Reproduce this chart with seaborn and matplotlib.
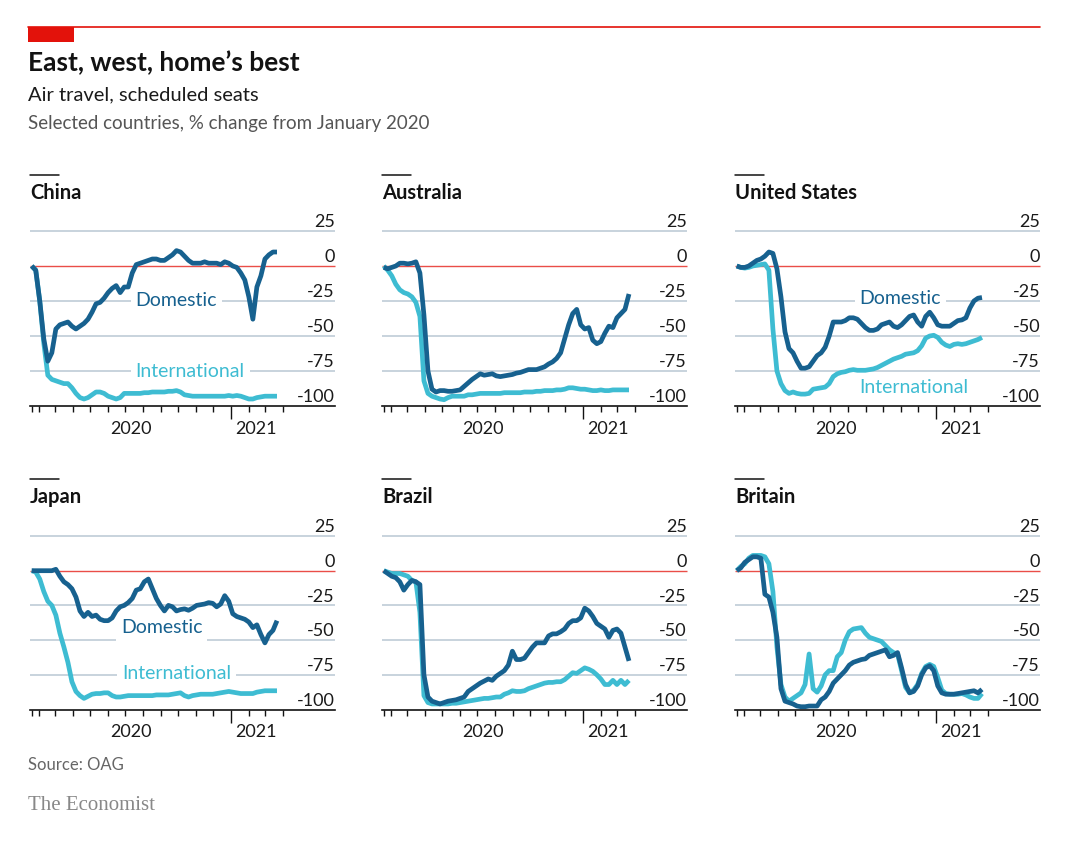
import numpy as np
import pandas as pd
import matplotlib
matplotlib.use("Agg")
import matplotlib.pyplot as plt
import matplotlib.patches as mpatches
import matplotlib.transforms as mtrans
from matplotlib.lines import Line2D
import seaborn as sns

sns.set_theme(style="white")
plt.rcParams["font.family"] = ["Lato", "DejaVu Sans"]

# ---------------- data (weekly, % change from January 2020) ----------------
dates = pd.date_range("2020-01-20", periods=62, freq="7D")

countries = ["China", "Australia", "United States", "Japan", "Brazil", "Britain"]

china_dom = [0, -3, -25, -52, -68, -62, -45, -42, -41, -40, -43, -45, -43, -41, -38, -33,
             -27, -26, -23, -19, -16, -14, -19, -15, -15, -5, 1, 2, 3, 4, 5, 5,
             4, 4, 6, 8, 11, 10, 7, 4, 2, 2, 2, 3, 2, 2, 2, 1,
             3, 2, 0, -1, -5, -10, -22, -38, -15, -7, 5, 8, 10, 10]
china_int = [0, -3, -25, -55, -78, -81, -82, -83, -84, -84, -87, -91, -94, -95, -94, -92,
             -90, -90, -91, -93, -94, -95, -94, -91, -91, -91, -91, -91, -90.5, -90.5, -90, -90,
             -90, -90, -89.5, -89.5, -89, -90, -92, -92.5, -93, -93, -93, -93, -93, -93,
             -93, -93, -93, -92.5, -93, -92.5, -93, -94, -95, -95, -94, -93.5, -93, -93, -93, -93]

aus_dom = [-1, -2, -1, 0, 2, 2, 1.5, 2, 3, -5, -35, -75, -88, -90, -89, -89,
           -89.5, -89.5, -89, -88.5, -86, -83.5, -81, -79, -77, -78, -77.5, -77, -78.5, -79, -78.5, -78,
           -77.5, -76.5, -76, -75, -74, -74, -74, -73, -72, -70, -68.5, -66, -62, -52,
           -42, -34, -31, -42, -45, -44, -53, -55.5, -54, -48, -43, -44, -37, -34, -31, -20]
aus_int = [0, -3, -7, -13, -17, -19, -20, -22, -26, -36, -82, -91, -93, -94, -95, -95.5,
           -94, -93, -93, -93, -93, -92, -92, -91.5, -91, -91, -91, -91, -91, -91, -90.5, -90.5,
           -90.5, -90.5, -90.5, -90, -90, -90, -89.5, -89.5, -89, -89, -89, -88.5, -88.5, -88,
           -87, -87, -87.5, -88, -88, -88.5, -89, -89, -88.5, -89, -89, -88.5, -88.5, -88.5, -88.5, -88.5]

us_dom = [0, -1, -1, 0, 2, 4, 5, 7, 10, 9, -2, -22, -47, -59, -62, -68,
          -73, -73, -72, -68, -64, -62, -58, -50, -40, -40, -40, -39, -37, -37, -38, -41,
          -44, -46, -46, -45, -42, -41, -40, -43, -44, -42, -39, -36, -35, -40,
          -43, -36, -33, -37, -42, -43, -43, -43, -41, -39, -38.5, -37, -30, -25, -23, -22.5]
us_int = [0, -1, -1.5, -1, 0, 0.5, 1, 1.5, -3, -45, -75, -84, -89, -91, -90, -91,
          -91.5, -91.5, -91, -88, -87.5, -87, -86.5, -84, -79, -77, -76, -75.5, -74.5, -74, -74.5, -74.5,
          -74.5, -74, -73.5, -72.5, -71, -69.5, -68, -66.5, -65.5, -64.5, -63, -62.5, -62, -60.5,
          -57, -51.5, -50, -49.5, -51, -54.5, -56.5, -57.5, -56, -55.5, -56, -55.5, -54.5, -53.5, -52.5, -51]

jap_dom = [0, 0, 0, 0, 0, 0, 1, -4, -8, -10, -13, -19, -29, -33, -30, -33,
           -32, -35, -36, -36, -34, -29, -26, -25, -23, -20, -14, -13, -8, -6, -13, -20,
           -25, -29, -25, -26, -29, -28, -27.5, -28.5, -27, -25, -24.5, -24, -23, -23.5,
           -26, -24, -18, -22, -31, -33, -34, -35, -37, -41, -39, -46, -52, -46, -43, -36]
jap_int = [0, -1, -6, -15, -22, -25, -32, -45, -55, -66, -80, -87, -90, -92, -90.5, -89,
           -88.5, -88.5, -88, -88, -90, -91, -91, -90.5, -90, -90, -90, -90, -90, -90, -90, -89.5,
           -89.5, -89.5, -89.5, -89, -88.5, -88, -90, -91, -90, -89.5, -89, -89, -89, -89,
           -88.5, -88, -87.5, -87, -87.5, -88, -88.5, -88.5, -88.5, -88.5, -87.5, -87, -86.5, -86.5, -86.5, -86.5]

bra_dom = [0, -2, -4, -5, -8, -14, -10, -7, -8, -10, -75, -91, -94, -95, -96, -95,
           -94, -93.5, -93, -92, -91, -87, -85, -83, -81, -79.5, -78, -79, -76, -74, -72, -68,
           -58, -64, -64, -63, -59, -55, -52, -52, -52, -47, -45.5, -45.5, -44, -42,
           -38, -36, -36, -34, -27, -29, -33, -38, -40, -42, -48, -43, -42, -45, -55, -65]
bra_int = [0, -1, -2, -2, -2, -3, -4, -7, -8, -30, -90, -95, -96, -96, -96, -96,
           -96, -95.5, -95.5, -95, -94.5, -94, -93.5, -93, -92.5, -92, -92, -91.5, -91, -91, -89, -88,
           -86.5, -87, -87, -86.5, -85, -84, -83, -82, -81, -80.5, -80.5, -80, -80, -78.5,
           -76, -73.5, -74, -72, -70, -71, -72.5, -75, -78, -82, -82, -79, -82, -79, -82, -79]

gb_dom = [0, 2, 6, 8, 10, 10, 9, -17, -19, -30, -48, -85, -94, -95, -96, -97.5,
          -98, -98, -97.5, -97.5, -97.5, -93, -91, -87, -81, -78, -75, -72, -68, -66, -65, -64,
          -63.5, -61, -60, -59, -58, -57, -62, -61, -59, -70, -82, -88, -87, -83,
          -75, -70, -68.5, -72, -83, -88, -89, -89, -89, -88.5, -88, -87.5, -87, -86.5, -88, -85.5]
gb_int = [0, 3, 5, 9, 11, 11, 11, 10, 5, -15, -55, -82, -91, -94, -92, -90,
          -88, -82, -60, -85, -87.5, -83, -75, -72, -72, -62, -59, -50, -44, -42, -41.5, -41,
          -45, -48, -49, -50, -51, -54, -57, -59, -60, -72, -84, -88, -86, -82,
          -74, -69, -67.5, -69, -77, -86, -88.5, -89, -89, -89, -88.5, -89.5, -91, -92, -92, -88.5]

domestic = [china_dom, aus_dom, us_dom, jap_dom, bra_dom, gb_dom]
international = [china_int, aus_int, us_int, jap_int, bra_int, gb_int]

y_ticks = [25, 0, -25, -50, -75, -100]
y_tick_labels = ["25", "0", "-25", "-50", "-75", "-100"]
year_labels = ["2020", "2021"]
year_label_pos = [pd.Timestamp("2020-07-11"), pd.Timestamp("2021-02-14")]
month_ticks = [pd.Timestamp("2020-01-20")] + list(pd.date_range("2020-02-01", "2021-04-01", freq="MS"))

# series labels: (panel index, text, date, value, series)
series_labels = [
    (0, "Domestic", pd.Timestamp("2020-09-28"), -25, "dom"),
    (0, "International", pd.Timestamp("2020-10-22"), -75, "int"),
    (2, "Domestic", pd.Timestamp("2020-10-31"), -23, "dom"),
    (2, "International", pd.Timestamp("2020-11-23"), -87, "int"),
    (3, "Domestic", pd.Timestamp("2020-09-02"), -41, "dom"),
    (3, "International", pd.Timestamp("2020-09-28"), -74, "int"),
]

# ---------------- style ----------------
DOM = "#17618F"
INT = "#3EBCD2"
GRID = "#B9C8D3"
RED = "#E3120B"
DARK = "#121212"

W, H = 1080, 846
fig = plt.figure(figsize=(W / 100, H / 100), dpi=100)
fig.patch.set_facecolor("white")

# header
fig.add_artist(Line2D([28 / W, 1040 / W], [1 - 27 / H] * 2, color=RED, lw=1.2))
fig.add_artist(mpatches.Rectangle((28 / W, 1 - 42 / H), 46 / W, 15 / H, color=RED, lw=0))
fig.text(28 / W, 1 - 63 / H, "East, west, home\u2019s best", fontsize=19, weight="bold",
         color=DARK, va="center", ha="left")
fig.text(28 / W, 1 - 95 / H, "Air travel, scheduled seats", fontsize=14.5,
         color="#1a1a1a", va="center", ha="left")
fig.text(28 / W, 1 - 123 / H, "Selected countries, % change from January 2020", fontsize=13.5,
         color="#555555", va="center", ha="left")

lefts = [30, 382, 735]
tops = [231, 536]
bottoms = [406, 709.5]
panel_w = 305
xlim = (pd.Timestamp("2020-01-17"), pd.Timestamp("2021-07-01"))

for i, name in enumerate(countries):
    r, c = divmod(i, 3)
    left, top, bot = lefts[c], tops[r], bottoms[r]
    ax = fig.add_axes([left / W, 1 - bot / H, panel_w / W, (bot - top) / H])
    ax.set_facecolor("white")
    ax.set_ylim(-100, 25)
    ax.set_xlim(*xlim)

    for v in [25, -25, -50, -75]:
        ax.axhline(v, color=GRID, lw=1.1, zorder=1)
    ax.axhline(0, color=RED, lw=1.0, zorder=1.2, alpha=0.75)

    sns.lineplot(x=dates, y=international[i], ax=ax, color=INT, lw=3.4, zorder=3)
    sns.lineplot(x=dates, y=domestic[i], ax=ax, color=DOM, lw=3.4, zorder=3.5)
    for ln in ax.lines:
        ln.set_clip_on(False)
        ln.set_solid_capstyle("butt")
        ln.set_solid_joinstyle("round")

    for s in ["top", "right", "left"]:
        ax.spines[s].set_visible(False)
    ax.spines["bottom"].set_color(DARK)
    ax.spines["bottom"].set_linewidth(1.2)
    ax.spines["bottom"].set_zorder(4)

    # y labels on the right, above the gridlines
    tr = mtrans.blended_transform_factory(ax.transAxes, ax.transData)
    for v, lab in zip(y_ticks, y_tick_labels):
        ax.text(1.0, v + 2.6, lab, transform=tr, ha="right", va="baseline",
                fontsize=13, color="#1a1a1a")
    ax.set_yticks([])
    ax.set_ylabel("")
    ax.set_xlabel("")

    # x ticks
    ax.set_xticks(month_ticks)
    ax.set_xticklabels([""] * len(month_ticks))
    ax.tick_params(axis="x", which="major", direction="out", length=4.5, width=1.0,
                   color=DARK, bottom=True)
    for t, d in zip(ax.xaxis.get_major_ticks(), month_ticks):
        if d == pd.Timestamp("2021-01-01"):
            t.tick1line.set_markersize(9)
    ax.set_xticks(year_label_pos, minor=True)
    ax.set_xticklabels(year_labels, minor=True)
    ax.tick_params(axis="x", which="minor", length=0, pad=10.5, labelsize=13,
                   labelcolor="#1a1a1a")

    # series labels
    for (pi, txt, d, v, s) in series_labels:
        if pi == i:
            ax.text(d, v, txt, ha="center", va="center", fontsize=14,
                    color=DOM if s == "dom" else INT, zorder=2,
                    bbox=dict(boxstyle="square,pad=0.25", facecolor="white", edgecolor="none"))

    # panel title and small black rule
    ty = 193 if r == 0 else 497
    ly = 175 if r == 0 else 479
    fig.add_artist(Line2D([left / W, (left + 29) / W], [1 - ly / H] * 2, color=DARK, lw=1.1))
    fig.text(left / W, 1 - ty / H, name, fontsize=14.5, weight="bold", color=DARK,
             va="center", ha="left")

fig.text(28 / W, 1 - 765 / H, "Source: OAG", fontsize=12, color="#666666",
         va="center", ha="left")
fig.text(28 / W, 1 - 805 / H, "The Economist", fontsize=15, color="#888888",
         va="center", ha="left", family=["Liberation Serif", "DejaVu Serif"])

fig.savefig("out.png", dpi=100, facecolor="white")
